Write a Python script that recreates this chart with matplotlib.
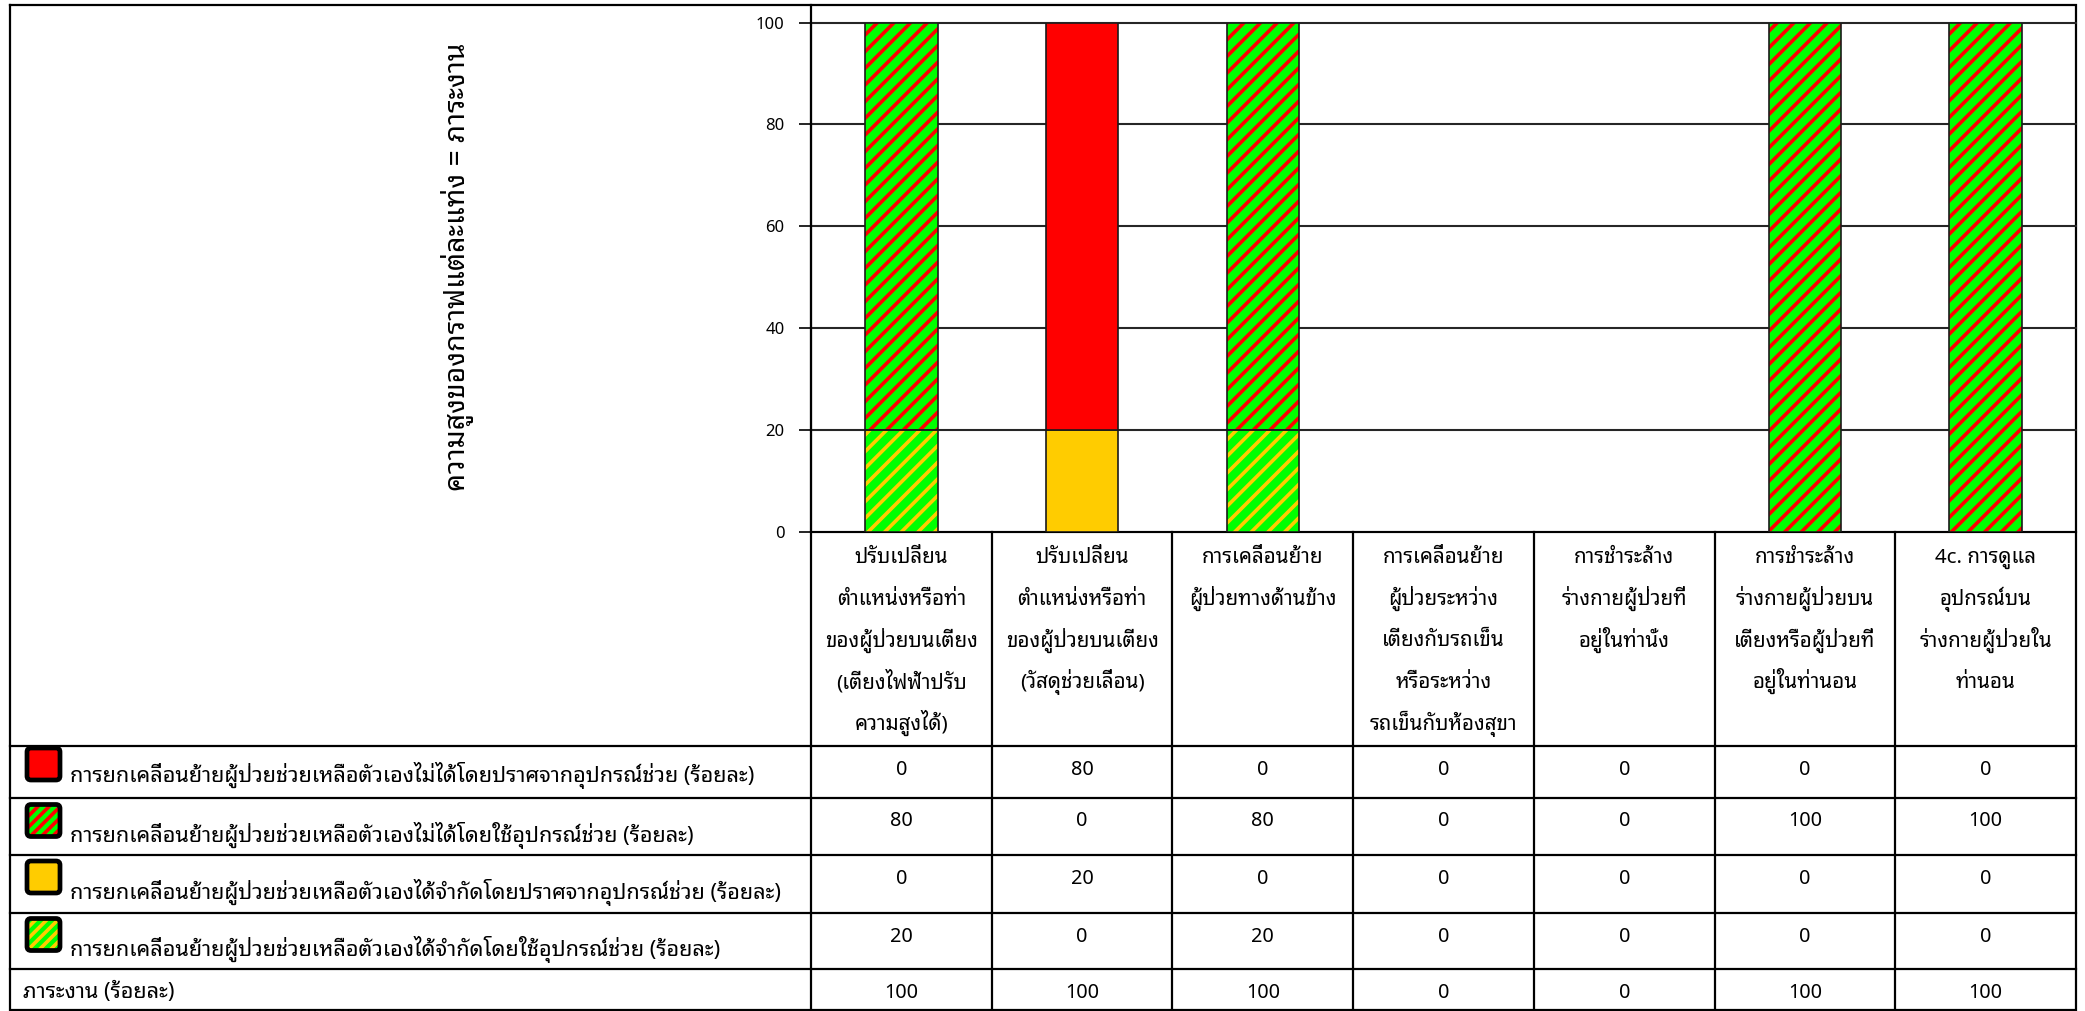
import matplotlib
matplotlib.use('Agg')
import matplotlib.pyplot as plt
from matplotlib import font_manager, transforms
from matplotlib.ft2font import FT2Font
from matplotlib.patches import Rectangle, FancyBboxPatch

# ---------------- data ----------------
categories = [
    'ปรับเปลี่ยน\nตำแหน่งหรือท่า\nของผู้ป่วยบนเตียง\n(เตียงไฟฟ้าปรับ\nความสูงได้)',
    'ปรับเปลี่ยน\nตำแหน่งหรือท่า\nของผู้ป่วยบนเตียง\n(วัสดุช่วยเลื่อน)',
    'การเคลื่อนย้าย\nผู้ป่วยทางด้านข้าง',
    'การเคลื่อนย้าย\nผู้ป่วยระหว่าง\nเตียงกับรถเข็น\nหรือระหว่าง\nรถเข็นกับห้องสุขา',
    'การชำระล้าง\nร่างกายผู้ป่วยที่\nอยู่ในท่านั่ง',
    'การชำระล้าง\nร่างกายผู้ป่วยบน\nเตียงหรือผู้ป่วยที่\nอยู่ในท่านอน',
    '4c. การดูแล\nอุปกรณ์บน\nร่างกายผู้ป่วยใน\nท่านอน',
]
series_labels = [
    'การยกเคลื่อนย้ายผู้ป่วยช่วยเหลือตัวเองไม่ได้โดยปราศจากอุปกรณ์ช่วย (ร้อยละ)',
    'การยกเคลื่อนย้ายผู้ป่วยช่วยเหลือตัวเองไม่ได้โดยใช้อุปกรณ์ช่วย (ร้อยละ)',
    'การยกเคลื่อนย้ายผู้ป่วยช่วยเหลือตัวเองได้จำกัดโดยปราศจากอุปกรณ์ช่วย (ร้อยละ)',
    'การยกเคลื่อนย้ายผู้ป่วยช่วยเหลือตัวเองได้จำกัดโดยใช้อุปกรณ์ช่วย (ร้อยละ)',
]
dependent_no_aid = [0, 80, 0, 0, 0, 0, 0]
dependent_aid = [80, 0, 80, 0, 0, 100, 100]
limited_no_aid = [0, 20, 0, 0, 0, 0, 0]
limited_aid = [20, 0, 20, 0, 0, 0, 0]
workload = [100, 100, 100, 0, 0, 100, 100]
workload_label = 'ภาระงาน (ร้อยละ)'
y_label = 'ความสูงของกราฟแต่ละแท่ง = ภาระงาน'
y_ticks = [0, 20, 40, 60, 80, 100]

# fill styles: (face, hatch colour or None)
RED, GREEN, GOLD = '#ff0000', '#00ff00', '#ffcc00'
styles = [(RED, None), (GREEN, RED), (GOLD, None), (GREEN, GOLD)]


# ---------------- font with thai glyphs ----------------
def find_thai_font():
    prefer = ['Noto Sans Thai Looped', 'Noto Sans Thai', 'Noto Sans Thai UI',
              'Leelawadee UI', 'Tahoma', 'Loma', 'Garuda', 'Sarabun',
              'Laksaman', 'Umpush', 'Waree', 'Norasi', 'Kinnari']
    found = {}
    for f in font_manager.fontManager.ttflist:
        if f.name in found:
            continue
        try:
            cmap = FT2Font(f.fname).get_charmap()
        except Exception:
            continue
        if 0x0E01 in cmap and 0x0E48 in cmap and 0x0E32 in cmap:
            found[f.name] = f.fname
    for p in prefer:
        if p in found:
            return p
    if found:
        return sorted(found)[0]
    return None


thai_font = find_thai_font()
families = ([thai_font] if thai_font else []) + ['Noto Sans', 'DejaVu Sans']
plt.rcParams['font.family'] = families
plt.rcParams['hatch.linewidth'] = 2.6

# ---------------- layout (pixels) ----------------
W, H = 2085, 1011
FL, FR, FT, FB = 10, 2076, 5, 1010
AX_L, AX_R, AX_T, AX_B = 811, 2076, 22.6, 532
row_lines = [746, 797.5, 854.5, 912.5, 969]
label_base = [782, 842, 899, 956, 998]
key_top = [746, 802.5, 859, 916.5]

fig = plt.figure(figsize=(W / 100, H / 100), dpi=100)
ov = fig.add_axes([0, 0, 1, 1], zorder=0)
ov.set_xlim(0, W)
ov.set_ylim(H, 0)
ov.axis('off')

ax = fig.add_axes([AX_L / W, 1 - AX_B / H, (AX_R - AX_L) / W, (AX_B - AX_T) / H], zorder=1)
ax.patch.set_alpha(0)

x = list(range(len(categories)))
# stacked from the bottom up
stack = [limited_aid, limited_no_aid, dependent_aid, dependent_no_aid]
stack_styles = [styles[3], styles[2], styles[1], styles[0]]
bottom = [0] * len(x)
for vals, (face, hcol) in zip(stack, stack_styles):
    xs = [i for i in x if vals[i] > 0]
    hs = [vals[i] for i in xs]
    bs = [bottom[i] for i in xs]
    if hcol is None:
        ax.bar(xs, hs, 0.4, bottom=bs, color=face, edgecolor='#1a1a1a', linewidth=1.2, zorder=3)
    else:
        ax.bar(xs, hs, 0.4, bottom=bs, color=face, edgecolor=hcol, hatch='//', linewidth=0, zorder=3)
        ax.bar(xs, hs, 0.4, bottom=bs, fill=False, edgecolor='#1a1a1a', linewidth=1.2, zorder=4)
    bottom = [b + v for b, v in zip(bottom, vals)]

ax.set_xlim(-0.5, len(x) - 0.5)
ax.set_ylim(0, 100)
ax.set_yticks(y_ticks)
ax.set_xticks([])
ax.yaxis.grid(True, color='#262626', linewidth=1.5)
for gl in ax.get_ygridlines():
    gl.set_clip_on(False)
ax.set_axisbelow(True)
ax.tick_params(axis='y', direction='out', length=9, width=1.2, pad=10, labelsize=12)
for s in ['top', 'right']:
    ax.spines[s].set_visible(False)
ax.spines['left'].set_linewidth(1.5)
ax.spines['bottom'].set_linewidth(1.5)

ov.text(457, 267, y_label, rotation=90, ha='center', va='center', fontsize=20.5)

# ---------------- data table ----------------
col_tr = transforms.blended_transform_factory(ax.transData, ov.transData)
lw = 1.6
ov.plot([FL, FR, FR, FL, FL], [FT, FT, FB, FB, FT], color='black', lw=lw, solid_joinstyle='miter')
ov.plot([AX_L, AX_L], [FT, FB], color='black', lw=lw)
for k in range(1, len(x)):
    ov.plot([k - 0.5, k - 0.5], [AX_B, FB], color='black', lw=lw, transform=col_tr)
for yl in row_lines:
    ov.plot([FL, FR], [yl, yl], color='black', lw=lw)

# header cells
for i, cat in enumerate(categories):
    for k, line in enumerate(cat.split('\n')):
        ov.text(i, 563 + k * 41.7, line, ha='center', va='baseline',
                fontsize=14.8, transform=col_tr)

rows = [dependent_no_aid, dependent_aid, limited_no_aid, limited_aid, workload]
for r, vals in enumerate(rows):
    top = row_lines[r]
    for i, v in enumerate(vals):
        ov.text(i, top + 29, str(v), ha='center', va='baseline', fontsize=14.3,
                transform=col_tr)

# legend keys and row labels
for r, lab in enumerate(series_labels):
    face, hcol = styles[r]
    inner = Rectangle((28, key_top[r] + 3), 31, 30, facecolor=face,
                      edgecolor=hcol if hcol else face, hatch='///' if hcol else None,
                      linewidth=0)
    ov.add_patch(inner)
    ov.add_patch(FancyBboxPatch((27, key_top[r] + 2), 33, 32,
                                boxstyle='round,pad=0,rounding_size=4',
                                fill=False, edgecolor='black', linewidth=3.4))
    ov.text(70, label_base[r], lab, ha='left', va='baseline', fontsize=15.6)
ov.text(23, label_base[4], workload_label, ha='left', va='baseline', fontsize=15.6)

fig.savefig('out.png', dpi=100)
